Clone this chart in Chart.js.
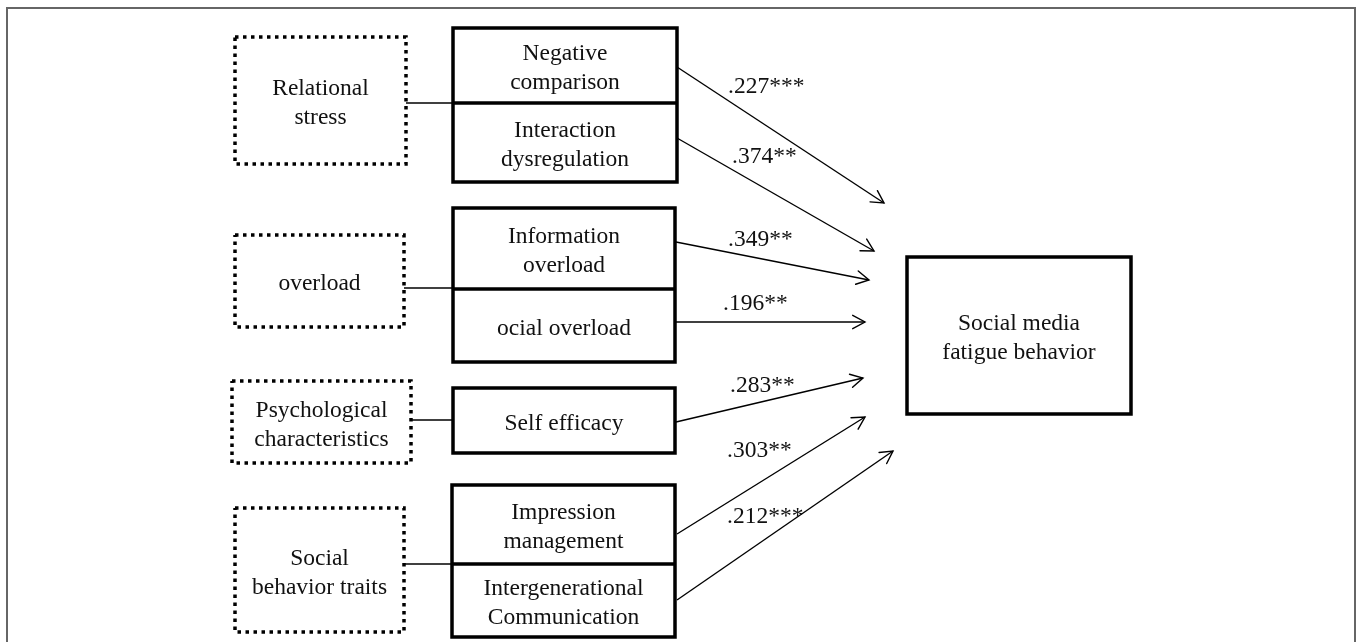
<!DOCTYPE html>
<html>
<head>
<meta charset="utf-8">
<script src="https://cdn.jsdelivr.net/npm/chart.js@4/dist/chart.umd.min.js"></script>
<style>
  html, body { margin: 0; padding: 0; background: #fff; }
  #wrap { width: 1357px; height: 642px; }
</style>
</head>
<body>
<div id="wrap"><canvas id="c" width="1357" height="642"></canvas></div>
<script>
// ---------- data ----------
const factorLabels = [
  ['Relational', 'stress'],
  ['overload'],
  ['Psychological', 'characteristics'],
  ['Social', 'behavior traits']
];
const indicatorLabels = [
  ['Negative', 'comparison'],
  ['Interaction', 'dysregulation'],
  ['Information', 'overload'],
  ['ocial overload'],
  ['Self efficacy'],
  ['Impression', 'management'],
  ['Intergenerational', 'Communication']
];
const coefficients = ['.227***', '.374**', '.349**', '.196**', '.283**', '.303**', '.212***'];
const outcomeLabel = ['Social media', 'fatigue behavior'];

// ---------- layout (diagram units on the chart scales) ----------
const factorBoxes = [[235, 37, 406, 164], [235, 235, 404, 327], [232, 381, 411, 463], [235, 508, 404, 632]];
const groupBoxes = [[453, 28, 677, 182], [453, 208, 675, 362], [453, 388, 675, 453], [452, 485, 675, 637]];
const groupDividers = [103, 289, null, 564];
const connectorY = [103, 288, 420, 564];
const indicatorCells = [[0, 0], [0, 1], [1, 0], [1, 1], [2, 0], [3, 0], [3, 1]]; // [group, cell]
const outcomeBox = [907, 257, 1131, 414];
const arrowStarts = [[677, 67], [677, 138], [676, 242], [676, 322], [676, 422], [677, 534], [677, 600]];
const arrowEnds = [[884, 203], [874, 251], [869, 280], [865, 322], [863, 378], [865, 417], [893, 451]];
const coefAnchors = [[728, 93], [732, 163], [728, 246], [723, 310], [730, 392], [727, 457], [727, 523]];
const frameBox = [7, 8, 1355, 700];

// ---------- helpers ----------
function rectPts(b) {
  return [{x: b[0], y: b[1]}, {x: b[2], y: b[1]}, {x: b[2], y: b[3]}, {x: b[0], y: b[3]}, {x: b[0], y: b[1]}, {x: b[2], y: b[1]}];
}
function cellOf(g, k) {
  const b = groupBoxes[g];
  const d = groupDividers[g];
  if (d === null) return [b[0], b[1], b[2], b[3]];
  return k === 0 ? [b[0], b[1], b[2], d] : [b[0], d, b[2], b[3]];
}
const base = {showLine: true, pointRadius: 0, pointHoverRadius: 0, fill: false, tension: 0, borderColor: '#000', clip: false};
const BW = 3.5;

const datasets = [];
// outer frame
datasets.push(Object.assign({}, base, {data: rectPts(frameBox), borderColor: '#666', borderWidth: 2, borderJoinStyle: 'miter'}));
// dotted factor boxes
factorBoxes.forEach(b => {
  const pts = [{x: b[0], y: b[1]}, {x: b[2], y: b[1]}, {x: b[2], y: b[3]}, {x: b[0], y: b[3]}, {x: b[0], y: b[1]}];
  datasets.push(Object.assign({}, base, {data: pts, borderWidth: 3.5, borderDash: [3.5, 4.5], borderCapStyle: 'butt'}));
});
// solid indicator boxes
groupBoxes.forEach(b => datasets.push(Object.assign({}, base, {data: rectPts(b), borderWidth: BW, borderJoinStyle: 'miter'})));
// dividers
groupBoxes.forEach((b, i) => {
  if (groupDividers[i] !== null)
    datasets.push(Object.assign({}, base, {data: [{x: b[0], y: groupDividers[i]}, {x: b[2], y: groupDividers[i]}], borderWidth: BW}));
});
// connectors
factorBoxes.forEach((b, i) => {
  datasets.push(Object.assign({}, base, {data: [{x: b[2], y: connectorY[i]}, {x: groupBoxes[i][0], y: connectorY[i]}], borderWidth: 1.3}));
});
// outcome box
datasets.push(Object.assign({}, base, {data: rectPts(outcomeBox), borderWidth: BW, borderJoinStyle: 'miter'}));
// arrows
arrowStarts.forEach((s, i) => {
  datasets.push(Object.assign({}, base, {data: [{x: s[0], y: s[1]}, {x: arrowEnds[i][0], y: arrowEnds[i][1]}], borderWidth: 1.4, isArrow: true}));
});

const FONT = '23.5px "Liberation Serif", "Times New Roman", serif';
const LH = 29;

const diagramPlugin = {
  id: 'diagram',
  beforeDraw(chart) {
    const ctx = chart.ctx;
    ctx.save();
    ctx.fillStyle = '#fff';
    ctx.fillRect(0, 0, chart.width, chart.height);
    ctx.restore();
  },
  afterDatasetsDraw(chart) {
    const ctx = chart.ctx;
    const xs = chart.scales.x, ys = chart.scales.y;
    const px = v => xs.getPixelForValue(v), py = v => ys.getPixelForValue(v);
    ctx.save();
    // arrowheads
    ctx.strokeStyle = '#000';
    ctx.lineWidth = 1.4;
    ctx.lineCap = 'round';
    chart.data.datasets.forEach(ds => {
      if (!ds.isArrow) return;
      const a = ds.data[0], b = ds.data[1];
      const x1 = px(a.x), y1 = py(a.y), x2 = px(b.x), y2 = py(b.y);
      const ang = Math.atan2(y2 - y1, x2 - x1);
      const L = 14, h = 0.5;
      ctx.beginPath();
      ctx.moveTo(x2 - L * Math.cos(ang - h), y2 - L * Math.sin(ang - h));
      ctx.lineTo(x2, y2);
      ctx.lineTo(x2 - L * Math.cos(ang + h), y2 - L * Math.sin(ang + h));
      ctx.stroke();
    });
    // text
    ctx.fillStyle = '#111';
    ctx.font = FONT;
    ctx.textAlign = 'center';
    ctx.textBaseline = 'alphabetic';
    function block(lines, b) {
      const cx = px((b[0] + b[2]) / 2);
      const cy = (py(b[1]) + py(b[3])) / 2;
      const n = lines.length;
      lines.forEach((t, k) => ctx.fillText(t, cx, cy + (k - (n - 1) / 2) * LH + 9));
    }
    factorLabels.forEach((lines, i) => block(lines, factorBoxes[i]));
    indicatorLabels.forEach((lines, i) => block(lines, cellOf(indicatorCells[i][0], indicatorCells[i][1])));
    block(outcomeLabel, outcomeBox);
    ctx.textAlign = 'left';
    coefficients.forEach((t, i) => ctx.fillText(t, px(coefAnchors[i][0]), py(coefAnchors[i][1])));
    ctx.restore();
  }
};

new Chart(document.getElementById('c'), {
  type: 'scatter',
  data: {datasets: datasets},
  options: {
    responsive: false,
    animation: false,
    events: [],
    layout: {padding: 0},
    plugins: {legend: {display: false}, tooltip: {enabled: false}, title: {display: false}},
    scales: {
      x: {type: 'linear', min: 0, max: 1357, display: false},
      y: {type: 'linear', min: 0, max: 642, reverse: true, display: false}
    }
  },
  plugins: [diagramPlugin]
});
</script>
</body>
</html>
